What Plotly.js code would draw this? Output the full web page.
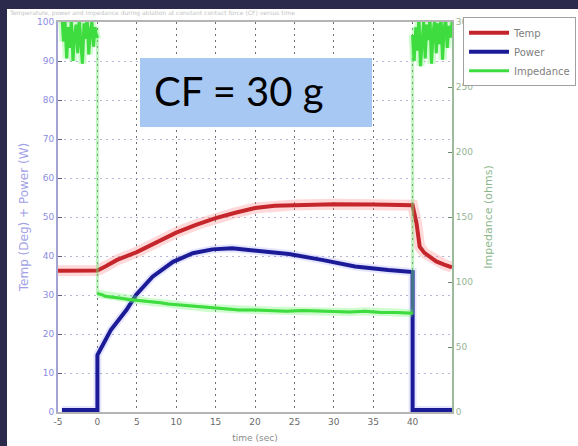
<!DOCTYPE html>
<html>
<head>
<meta charset="utf-8">
<script src="https://cdn.plot.ly/plotly-3.0.1.min.js"></script>
<style>
  html, body { margin: 0; padding: 0; width: 578px; height: 446px; background: #2b2a4c; overflow: hidden; }
  #chart { position: absolute; left: 7px; top: 9px; width: 571px; height: 437px; background: #ffffff; }
</style>
</head>
<body>
<div id="chart"></div>
<script>
// ---- data ----
const seriesNames = ["Temp", "Power", "Impedance"];

const tempTime = [-5, -2.5, 0, 1, 2.5, 5, 7.5, 10, 12.5, 15, 17.5, 20, 22.5, 25, 30, 35, 38, 40, 40.5, 40.9, 41.5, 42.2, 43, 44, 45];
const tempValue = [36.2, 36.2, 36.3, 37.3, 39, 41, 43.6, 46, 48, 49.7, 51.1, 52.3, 52.9, 53.1, 53.3, 53.2, 53.1, 53, 48.4, 42.4, 40.8, 39.8, 38.6, 37.8, 37.1];

const powerTime = [-4.5, 0, 0, 1.7, 3.7, 4.9, 7, 9.6, 12.1, 14.6, 17.1, 21.3, 24.3, 28.5, 32.7, 36.9, 40, 40, 45];
const powerValue = [0.5, 0.5, 14.6, 21, 26.2, 30, 34.7, 38.5, 40.7, 41.7, 42, 41.1, 40.5, 39, 37.3, 36.4, 35.9, 0.5, 0.5];

const impTime = [-4.5, -4.3, -4.1, -3.9, -3.7, -3.5, -3.3, -3.1, -2.9, -2.7, -2.5, -2.3, -2.1, -1.9, -1.7, -1.5, -1.3, -1.1, -0.9, -0.7, -0.5, -0.3, -0.1, 0,
  0, 0.5, 1, 2, 3, 4, 5, 6, 7, 8, 9, 10, 11, 12, 13, 14, 15, 16, 18, 20, 22, 24, 26, 28, 30, 32, 34, 36, 38, 40,
  40, 40.2, 40.4, 40.6, 40.8, 41, 41.2, 41.4, 41.6, 41.8, 42, 42.2, 42.4, 42.6, 42.8, 43, 43.2, 43.4, 43.6, 43.8, 44, 44.2, 44.4, 44.6, 44.8, 45];
const impValue = [305, 285, 300, 272, 296, 280, 302, 270, 290, 298, 276, 303, 284, 268, 299, 287, 304, 275, 293, 300, 281, 296, 288, 290,
  91, 90.5, 89, 88.5, 87.5, 86.5, 86, 85, 84.5, 84, 83, 82.5, 82, 81, 80.5, 80, 79.5, 79, 78.5, 78.5, 78, 77.5, 78, 77.5, 77, 77, 77.5, 76.5, 76.5, 76,
  290, 270, 296, 278, 305, 266, 284, 300, 272, 298, 286, 304, 268, 292, 301, 276, 299, 283, 305, 271, 295, 302, 280, 297, 288, 300];

const timeTicks = [-5, 0, 5, 10, 15, 20, 25, 30, 35, 40];
const leftTicks = [0, 10, 20, 30, 40, 50, 60, 70, 80, 90, 100];
const rightTicks = [0, 50, 100, 150, 200, 250, 300];
const boxLabel = "CF = 30 g";
const chartTitle = "Temperature, power and impedance during ablation at constant contact force (CF) versus time";

// main impedance line: break it at the big vertical jumps (those are drawn only faintly)
const impMainX = [], impMainY = [];
for (let i = 0; i < impTime.length; i++) {
  if (i > 0 && impTime[i] === impTime[i - 1] && Math.abs(impValue[i] - impValue[i - 1]) > 100) {
    impMainX.push(null); impMainY.push(null);
  }
  impMainX.push(impTime[i]); impMainY.push(impValue[i]);
}

// ---- traces ----
const traces = [
  { x: tempTime, y: tempValue, mode: "lines", showlegend: false, hoverinfo: "skip",
    line: { color: "rgba(255,120,120,0.28)", width: 11 } },
  { x: powerTime, y: powerValue, mode: "lines", showlegend: false, hoverinfo: "skip",
    line: { color: "rgba(110,110,255,0.18)", width: 8 } },
  { x: tempTime, y: tempValue, mode: "lines", name: seriesNames[0],
    line: { color: "#c4262c", width: 4 } },
  { x: powerTime, y: powerValue, mode: "lines", name: seriesNames[1],
    line: { color: "#1b1b98", width: 4 } },
  { x: impTime, y: impValue, mode: "lines", yaxis: "y2", showlegend: false, hoverinfo: "skip",
    line: { color: "rgba(120,230,120,0.45)", width: 3 } },
  { x: impMainX, y: impMainY, mode: "lines", yaxis: "y2", showlegend: false, hoverinfo: "skip", connectgaps: false,
    line: { color: "rgba(110,245,110,0.33)", width: 8 } },
  { x: impMainX, y: impMainY, mode: "lines", yaxis: "y2", name: seriesNames[2], connectgaps: false,
    line: { color: "#3fdc3f", width: 3 } }
];

const layout = {
  width: 571, height: 437,
  margin: { l: 51, r: 126, t: 13, b: 34, pad: 0, autoexpand: false },
  paper_bgcolor: "#ffffff",
  plot_bgcolor: "#ffffff",
  font: { family: "DejaVu Sans, sans-serif", size: 8, color: "#777" },
  showlegend: true,
  legend: {
    x: 1.028, y: 1.012, xanchor: "left", yanchor: "top",
    bgcolor: "#ffffff", bordercolor: "#a0a0a0", borderwidth: 1,
    font: { size: 10, color: "#808080", family: "DejaVu Sans, sans-serif" },
    tracegroupgap: 0, itemwidth: 40
  },
  xaxis: {
    range: [-5, 45], tickvals: timeTicks, ticktext: timeTicks.map(String),
    showgrid: true, gridcolor: "#707070", griddash: "2px,4px", gridwidth: 1,
    showline: true, linecolor: "#b4b4b4", linewidth: 2, mirror: true,
    ticks: "", zeroline: false,
    tickfont: { size: 9, color: "#6a6a6a" },
    title: { text: "time (sec)", font: { size: 9, color: "#8a8a8a" }, standoff: 9 }
  },
  yaxis: {
    range: [0, 100], tickvals: leftTicks, ticktext: leftTicks.map(String),
    showgrid: true, gridcolor: "#b6b6d6", griddash: "2px,4px", gridwidth: 1,
    showline: true, linecolor: "#a4a4d4", linewidth: 2,
    ticks: "inside", ticklen: 4, tickcolor: "#606080",
    zeroline: false,
    tickfont: { size: 9, color: "#8c8ce0" },
    title: { text: "Temp (Deg) + Power (W)", font: { size: 12, color: "#a2a2e6" }, standoff: 6 }
  },
  yaxis2: {
    overlaying: "y", side: "right", range: [0, 300],
    tickvals: rightTicks, ticktext: rightTicks.map(String),
    showgrid: false, zeroline: false,
    showline: true, linecolor: "#9cba9c", linewidth: 2,
    ticks: "inside", ticklen: 4, tickcolor: "#708870",
    tickfont: { size: 9, color: "#94b494" },
    title: { text: "Impedance (ohms)", font: { size: 11, color: "#8cb88c" }, standoff: 12 }
  },
  shapes: [
    { type: "rect", xref: "paper", yref: "paper", x0: 0.2081, x1: 0.797, y0: 0.7308, y1: 0.9077,
      fillcolor: "#a8c8f4", line: { width: 0 }, layer: "above" }
  ],
  annotations: [
    { xref: "paper", yref: "paper", x: 0.238, y: 0.822, xanchor: "left", yanchor: "middle",
      text: boxLabel, showarrow: false, font: { family: "Lato, sans-serif", size: 40, color: "#000000" } },
    { xref: "paper", yref: "paper", x: -0.13, y: 1.023, xanchor: "left", yanchor: "middle",
      text: chartTitle, showarrow: false, font: { size: 6, color: "#c4c4c4" } }
  ]
};

Plotly.newPlot("chart", traces, layout, { displayModeBar: false, staticPlot: true });
</script>
</body>
</html>
